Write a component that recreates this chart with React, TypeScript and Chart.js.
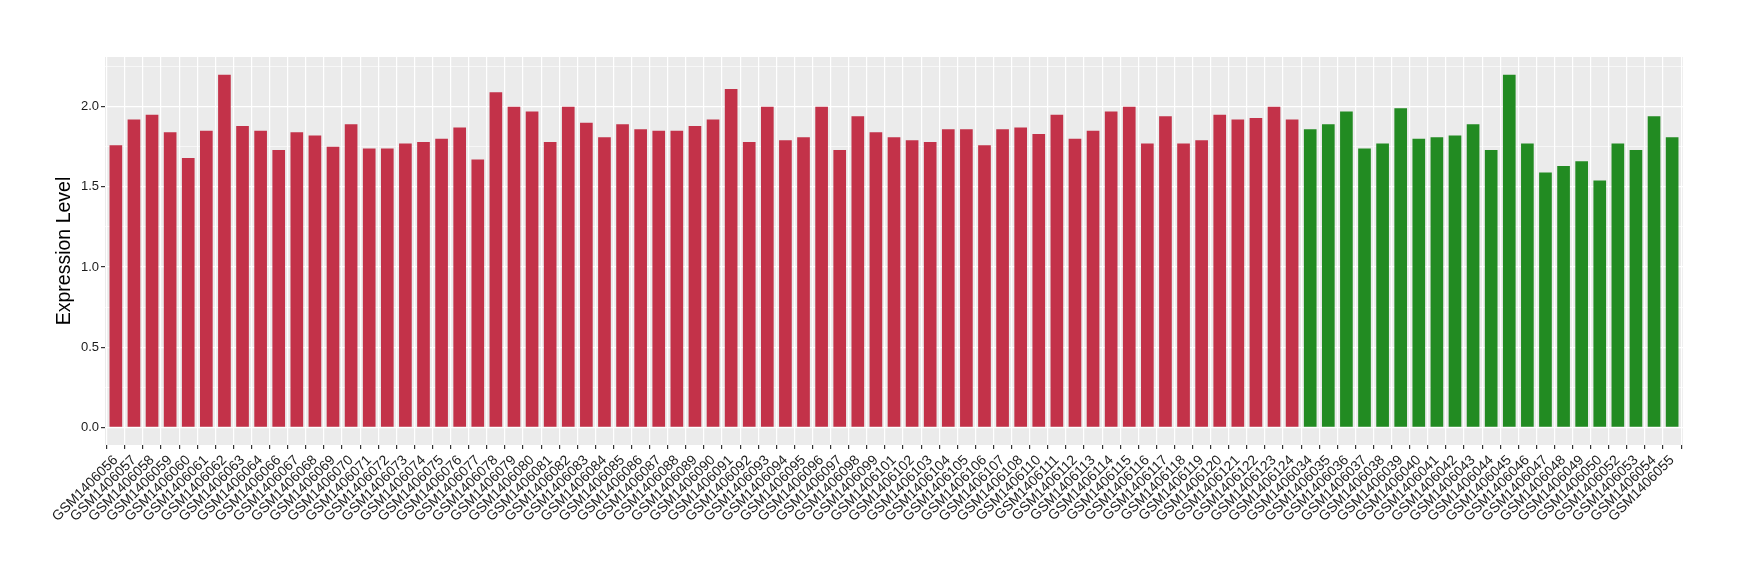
import React, { useEffect, useRef } from 'react';
import { Chart, registerables } from 'chart.js';

Chart.register(...registerables);

// ---- data ----
const tumorSamples = [
  'GSM1406056', 'GSM1406057', 'GSM1406058', 'GSM1406059', 'GSM1406060', 'GSM1406061',
  'GSM1406062', 'GSM1406063', 'GSM1406064', 'GSM1406066', 'GSM1406067', 'GSM1406068',
  'GSM1406069', 'GSM1406070', 'GSM1406071', 'GSM1406072', 'GSM1406073', 'GSM1406074',
  'GSM1406075', 'GSM1406076', 'GSM1406077', 'GSM1406078', 'GSM1406079', 'GSM1406080',
  'GSM1406081', 'GSM1406082', 'GSM1406083', 'GSM1406084', 'GSM1406085', 'GSM1406086',
  'GSM1406087', 'GSM1406088', 'GSM1406089', 'GSM1406090', 'GSM1406091', 'GSM1406092',
  'GSM1406093', 'GSM1406094', 'GSM1406095', 'GSM1406096', 'GSM1406097', 'GSM1406098',
  'GSM1406099', 'GSM1406101', 'GSM1406102', 'GSM1406103', 'GSM1406104', 'GSM1406105',
  'GSM1406106', 'GSM1406107', 'GSM1406108', 'GSM1406110', 'GSM1406111', 'GSM1406112',
  'GSM1406113', 'GSM1406114', 'GSM1406115', 'GSM1406116', 'GSM1406117', 'GSM1406118',
  'GSM1406119', 'GSM1406120', 'GSM1406121', 'GSM1406122', 'GSM1406123', 'GSM1406124',
];
const tumorValues = [
  1.76, 1.92, 1.95, 1.84, 1.68, 1.85,
  2.20, 1.88, 1.85, 1.73, 1.84, 1.82,
  1.75, 1.89, 1.74, 1.74, 1.77, 1.78,
  1.80, 1.87, 1.67, 2.09, 2.00, 1.97,
  1.78, 2.00, 1.90, 1.81, 1.89, 1.86,
  1.85, 1.85, 1.88, 1.92, 2.11, 1.78,
  2.00, 1.79, 1.81, 2.00, 1.73, 1.94,
  1.84, 1.81, 1.79, 1.78, 1.86, 1.86,
  1.76, 1.86, 1.87, 1.83, 1.95, 1.80,
  1.85, 1.97, 2.00, 1.77, 1.94, 1.77,
  1.79, 1.95, 1.92, 1.93, 2.00, 1.92,
];
const normalSamples = [
  'GSM1406034', 'GSM1406035', 'GSM1406036', 'GSM1406037', 'GSM1406038', 'GSM1406039',
  'GSM1406040', 'GSM1406041', 'GSM1406042', 'GSM1406043', 'GSM1406044', 'GSM1406045',
  'GSM1406046', 'GSM1406047', 'GSM1406048', 'GSM1406049', 'GSM1406050', 'GSM1406052',
  'GSM1406053', 'GSM1406054', 'GSM1406055',
];
const normalValues = [
  1.86, 1.89, 1.97, 1.74, 1.77, 1.99,
  1.80, 1.81, 1.82, 1.89, 1.73, 2.20,
  1.77, 1.59, 1.63, 1.66, 1.54, 1.77,
  1.73, 1.94, 1.81,
];
const yMajorTicks = [0, 0.5, 1.0, 1.5, 2.0];
const yMinorTicks = [0.25, 0.75, 1.25, 1.75, 2.25];
const yTitle = 'Expression Level';

const tumorColor = '#C33249';
const normalColor = '#228B22';
const FONT = "'Liberation Sans', Arial, Helvetica, sans-serif";

const categories = [...tumorSamples, ...normalSamples];
const values = [...tumorValues, ...normalValues];
const barColors = [
  ...tumorSamples.map(() => tumorColor),
  ...normalSamples.map(() => normalColor),
];
const yAllTicks = [...yMajorTicks, ...yMinorTicks].sort((a, b) => a - b);
const isMajor = (v: number) => yMajorTicks.some((m) => Math.abs(m - v) < 1e-9);

const panelBg = {
  id: 'panelBg',
  beforeDraw(chart: any) {
    const { ctx, chartArea } = chart;
    ctx.save();
    ctx.fillStyle = '#EBEBEB';
    ctx.fillRect(chartArea.left, chartArea.top, chartArea.width, chartArea.height);
    ctx.restore();
  },
};

export default function App() {
  const ref = useRef<HTMLCanvasElement | null>(null);

  useEffect(() => {
    if (!ref.current) return;
    const dataMax = Math.max(...values);
    const pad = dataMax * 0.05;
    const chart = new Chart(ref.current, {
      type: 'bar',
      data: {
        datasets: [
          {
            data: values.map((v, i) => ({ x: i, y: v })),
            backgroundColor: barColors,
            borderWidth: 0,
            barPercentage: 0.7,
            categoryPercentage: 1,
          },
        ],
      },
      options: {
        responsive: false,
        animation: false,
        layout: { padding: { left: 0, top: 57, right: 57, bottom: 0 } },
        plugins: { legend: { display: false }, tooltip: { enabled: false } },
        scales: {
          x: {
            type: 'linear',
            min: -0.6,
            max: categories.length - 1 + 0.6,
            offset: false,
            afterBuildTicks: (s: any) => {
              s.ticks = categories.map((_, i) => ({ value: i }));
            },
            afterFit: (s: any) => {
              s.height = 135;
            },
            ticks: {
              autoSkip: false,
              minRotation: 45,
              maxRotation: 45,
              padding: 3,
              color: '#1A1A1A',
              font: { family: FONT, size: 14 },
              callback: (v: any) => categories[Math.round(Number(v))] ?? '',
            },
            grid: {
              color: '#FFFFFF',
              lineWidth: 1.2,
              tickLength: 4,
              tickColor: '#333333',
              drawTicks: true,
            },
            border: { display: false },
          },
          y: {
            type: 'linear',
            min: -pad,
            max: dataMax + pad,
            afterBuildTicks: (s: any) => {
              s.ticks = yAllTicks.map((v) => ({ value: v }));
            },
            afterFit: (s: any) => {
              s.width = 105;
            },
            ticks: {
              padding: 2,
              color: '#1A1A1A',
              font: { family: FONT, size: 13 },
              callback: (v: any) => (isMajor(Number(v)) ? Number(v).toFixed(1) : ''),
            },
            grid: {
              color: '#FFFFFF',
              lineWidth: (ctx: any) => (isMajor(ctx.tick?.value) ? 1.2 : 0.6),
              tickLength: 4,
              tickColor: (ctx: any) => (isMajor(ctx.tick?.value) ? '#333333' : 'rgba(0,0,0,0)'),
            },
            border: { display: false },
            title: {
              display: true,
              text: yTitle,
              color: '#000000',
              font: { family: FONT, size: 19.5 },
              padding: { top: 52.5, bottom: 0 },
            },
          },
        },
      },
      plugins: [panelBg],
    } as any);
    return () => chart.destroy();
  }, []);

  return (
    <div style={{ position: 'absolute', left: 0, top: 0, width: 1740, height: 580, background: '#FFFFFF' }}>
      <canvas ref={ref} width={1740} height={580} style={{ display: 'block' }} />
    </div>
  );
}
